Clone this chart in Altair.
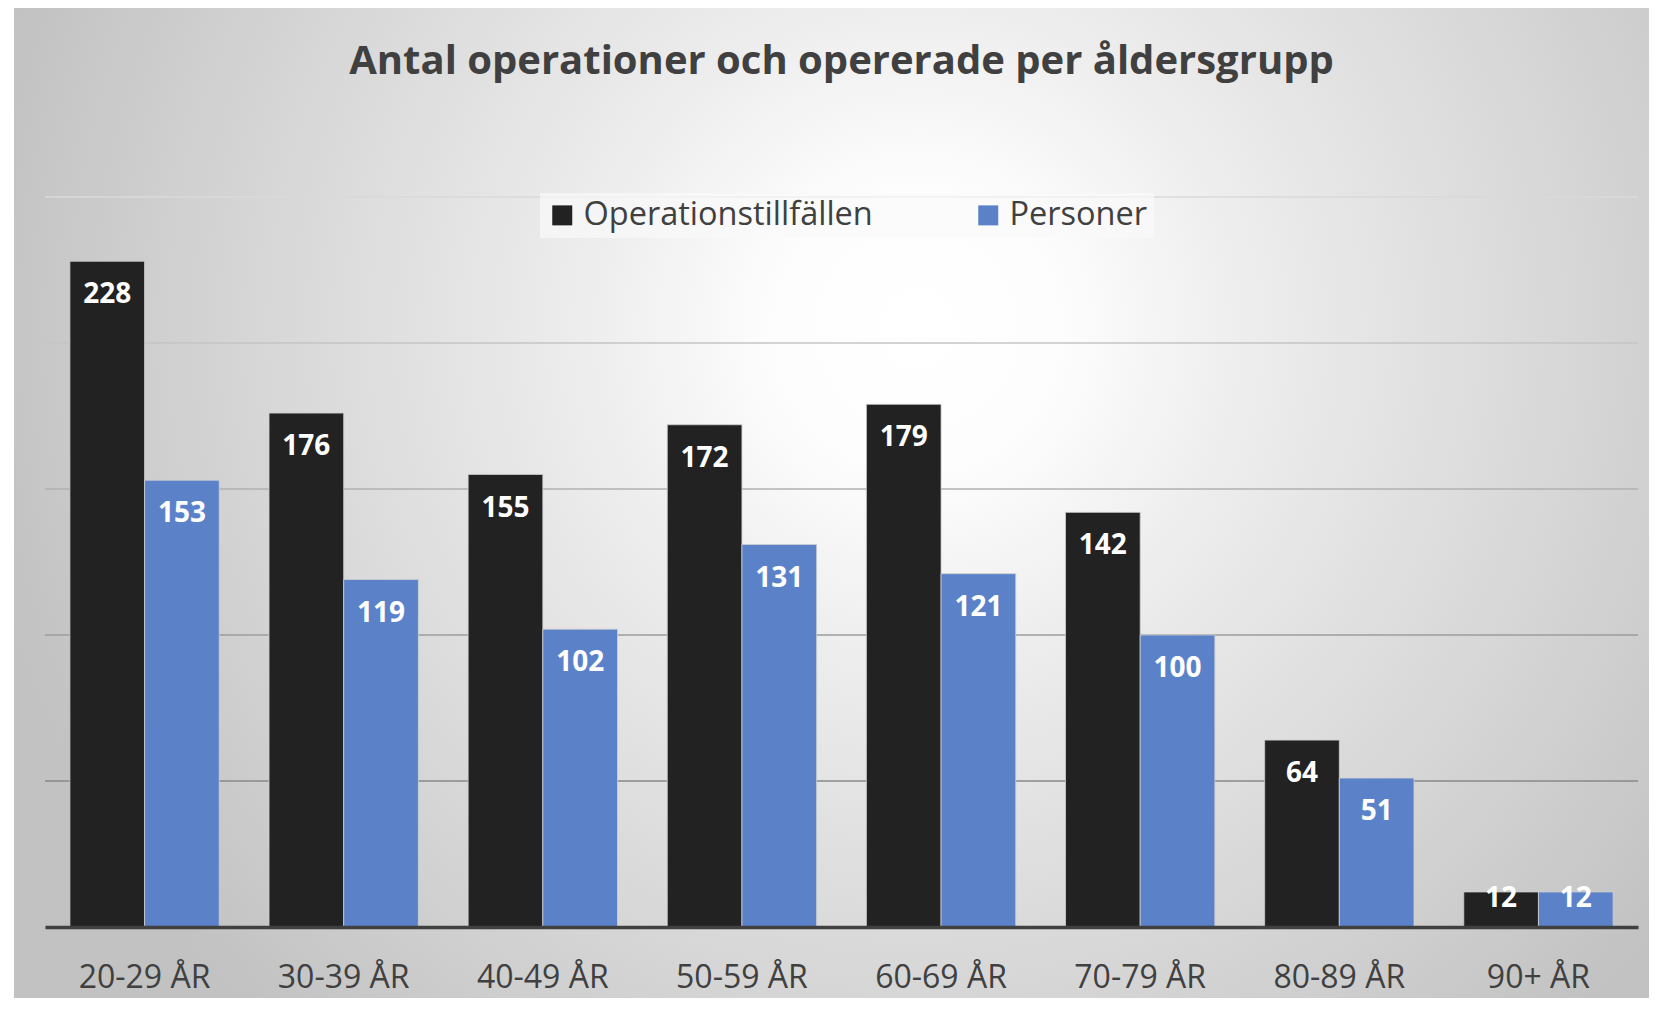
import altair as alt
import pandas as pd

# ---- data ----
age_groups = ["20-29 ÅR", "30-39 ÅR", "40-49 ÅR", "50-59 ÅR",
              "60-69 ÅR", "70-79 ÅR", "80-89 ÅR", "90+ ÅR"]
operationstillfallen = [228, 176, 155, 172, 179, 142, 64, 12]
personer = [153, 119, 102, 131, 121, 100, 51, 12]
series_names = ["Operationstillfällen", "Personer"]
grid_values = [50, 100, 150, 200, 250]
title_text = "Antal operationer och opererade per åldersgrupp"

rows = []
for i, g in enumerate(age_groups):
    rows.append({"grupp": g, "serie": series_names[0], "antal": operationstillfallen[i]})
    rows.append({"grupp": g, "serie": series_names[1], "antal": personer[i]})
df = pd.DataFrame(rows)

# ---- layout ----
W, H = 1593, 730
PAD = {"left": 37, "top": 189, "right": 11, "bottom": 71}

y_scale = alt.Scale(domain=[0, 250], nice=False, zero=True)

x_enc = alt.X(
    "grupp:N", sort=age_groups,
    scale=alt.Scale(paddingInner=0.25, paddingOuter=0.125),
    axis=alt.Axis(title=None, labelFont="Open Sans", labelFontSize=32,
                  labelColor="#404040", labelPadding=35, ticks=False,
                  labelAngle=0, domainColor="#404040", domainWidth=3.5,
                  zindex=1, grid=False),
)
xoff_enc = alt.XOffset("serie:N", sort=series_names,
                       scale=alt.Scale(paddingInner=0, paddingOuter=0))

gradient = {
    "gradient": "radial",
    "x1": 0.5, "y1": 0.5, "r1": 0,
    "x2": 0.5, "y2": 0.5, "r2": 0.5,
    "stops": [
        {"offset": 0.0, "color": "#ffffff"},
        {"offset": 0.15, "color": "#fdfdfd"},
        {"offset": 0.35, "color": "#ededed"},
        {"offset": 0.7, "color": "#d6d6d6"},
        {"offset": 1.0, "color": "#c2c2c2"},
    ],
}

bg = alt.Chart(pd.DataFrame({"bg": [0]})).mark_rect(fill=gradient).encode(
    x=alt.value(-31), x2=alt.value(1775),
    y=alt.value(-817), y2=alt.value(1083),
)

grid = alt.Chart(pd.DataFrame({"v": grid_values})).mark_rule(strokeWidth=1.5).encode(
    y=alt.Y("v:Q", scale=y_scale, axis=None),
    stroke=alt.Stroke("v:Q", scale=alt.Scale(domain=[50, 250], range=["#888888", "#dadada"]),
                      legend=None),
)

bars = alt.Chart(df).mark_bar(stroke="#cfcfcf", strokeWidth=1, strokeOpacity=0.8).encode(
    x=x_enc,
    xOffset=xoff_enc,
    y=alt.Y("antal:Q", scale=y_scale, axis=None),
    color=alt.Color(
        "serie:N", sort=series_names,
        scale=alt.Scale(domain=series_names, range=["#222222", "#5b82c9"]),
        legend=alt.Legend(
            title=None, orient="none", legendX=495, legendY=-4,
            direction="horizontal", symbolType="square", symbolSize=400,
            symbolStrokeWidth=0, labelFont="Open Sans", labelFontSize=32.5,
            labelColor="#404040", labelLimit=600, labelOffset=5,
            columnPadding=99, padding=6, fillColor="rgba(250,250,250,0.7)",
        ),
    ),
)

labels = alt.Chart(df).transform_calculate(
    label_y="max(datum.antal - 11, 10.3)"
).mark_text(font="Open Sans", fontSize=28, fontWeight="bold", color="white",
            baseline="middle", dy=2).encode(
    x=x_enc,
    xOffset=xoff_enc,
    y=alt.Y("label_y:Q", scale=y_scale, axis=None),
    text=alt.Text("antal:Q"),
)

title = alt.Chart(pd.DataFrame({"t": [title_text]})).mark_text(
    font="Open Sans", fontSize=40, fontWeight="bold", color="#404040",
    baseline="alphabetic", align="center",
).encode(x=alt.value(W / 2), y=alt.value(-123), text="t:N")

chart = alt.layer(bg, grid, bars, labels, title).properties(
    width=W, height=H,
    autosize=alt.AutoSizeParams(type="none"),
    padding=PAD,
).configure(background="white").configure_view(stroke=None)

chart.save("out.html", embed_options={"renderer": "svg", "actions": False})
